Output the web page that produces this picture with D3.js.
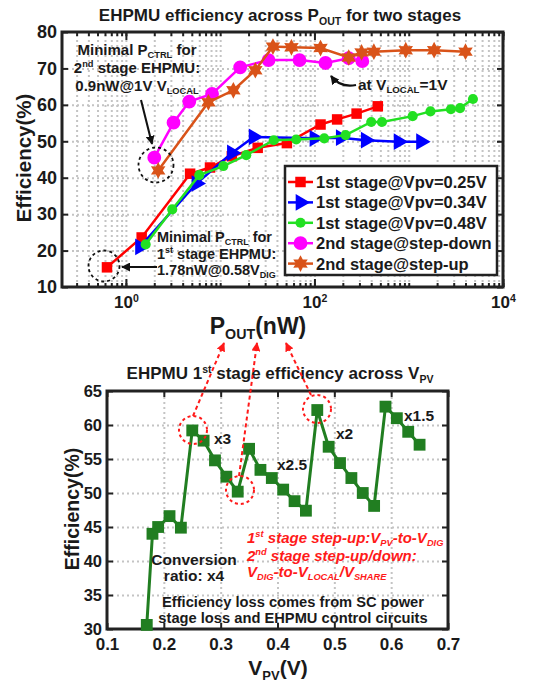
<!DOCTYPE html>
<html>
<head>
<meta charset="utf-8">
<script src="https://cdn.jsdelivr.net/npm/d3@7"></script>
<style>
  body { margin: 0; background: #fff; }
  text { font-family: Arial, "Liberation Sans", sans-serif; font-weight: bold; fill: #1a1a1a; }
</style>
</head>
<body>
<svg id="chart" width="545" height="684"></svg>
<script>
// ---------- top chart: efficiency vs P_OUT (nW) ----------
const redP = [0.63, 1.47, 4.8, 7.8, 13.3, 25, 51, 116, 174, 280, 470]
const redE = [15.4, 23.6, 41.1, 42.8, 45.9, 48.2, 49.5, 54.6, 56.0, 57.6, 59.6]
const blueP = [1.41, 5.6, 13.3, 22.6, 100, 190, 350, 780, 1350]
const blueE = [21.0, 38.4, 46.8, 51.2, 50.8, 51.0, 50.3, 49.9, 49.9]
const greenP = [1.62, 3.1, 6.0, 10.8, 18.9, 37, 64, 127, 214, 400, 520, 1100, 1700, 2800, 3500, 4800]
const greenE = [21.7, 31.3, 40.7, 43.2, 46.2, 50.3, 50.5, 50.8, 51.7, 55.3, 55.3, 56.9, 58.2, 58.8, 59.1, 61.6]
const magP = [2.0, 3.2, 4.7, 8.2, 16.3, 32.6, 69.5, 131, 231, 322]
const magE = [45.5, 55.1, 60.9, 63.0, 70.3, 72.3, 72.3, 71.5, 72.8, 72.0]
const orP = [2.2, 7.5, 13.8, 23.6, 36.3, 57, 116, 231, 316, 427, 930, 1860, 4000]
const orE = [42.0, 60.7, 64.0, 69.5, 76.0, 75.8, 75.6, 73.0, 74.4, 74.6, 75.0, 75.0, 74.6]
const topXTicks = [1, 100, 10000]
const topYTicks = [10, 20, 30, 40, 50, 60, 70, 80]
const legendNames = ['1st stage@Vpv=0.25V', '1st stage@Vpv=0.34V', '1st stage@Vpv=0.48V',
  '2nd stage@step-down', '2nd stage@step-up']

// ---------- bottom chart: 1st stage efficiency vs V_PV ----------
const vpv = [0.17, 0.18, 0.19, 0.21, 0.23, 0.25, 0.27, 0.29, 0.31, 0.33, 0.35, 0.37, 0.39,
  0.41, 0.43, 0.45, 0.47, 0.49, 0.51, 0.53, 0.55, 0.57, 0.59, 0.61, 0.63, 0.65]
const effPv = [30.6, 44.0, 45.0, 46.6, 44.9, 59.2, 57.7, 54.8, 52.4, 50.2, 56.5, 53.4, 52.2,
  50.5, 48.8, 47.4, 62.2, 56.8, 54.4, 52.2, 50.0, 48.1, 62.7, 61.0, 59.0, 57.1]
const botXTicks = [0.1, 0.2, 0.3, 0.4, 0.5, 0.6, 0.7]
const botYTicks = [30, 35, 40, 45, 50, 55, 60, 65]

const svg = d3.select('#chart')
const zip = (a, b) => a.map((v, i) => [v, b[i]])

// rich text: parts = [[text, 'n'|'sup'|'sub'], ...]
function rich(t, parts, fs) {
  let shift = 0
  parts.forEach(([s, k]) => {
    const target = k === 'sup' ? -0.38 * fs : k === 'sub' ? 0.22 * fs : 0
    t.append('tspan')
      .attr('dy', target - shift)
      .attr('font-size', k === 'n' ? fs : fs * 0.62)
      .text(s)
    shift = target
  })
  return t
}
function label(x, y, parts, fs, anchor) {
  const t = svg.append('text').attr('x', x).attr('y', y)
    .attr('text-anchor', anchor || 'start').attr('font-size', fs)
  return rich(t, parts, fs)
}

const defs = svg.append('defs')
function arrowMarker(id, color) {
  defs.append('marker').attr('id', id).attr('viewBox', '0 0 10 10')
    .attr('refX', 9).attr('refY', 5).attr('markerWidth', 9).attr('markerHeight', 9)
    .attr('markerUnits', 'userSpaceOnUse').attr('orient', 'auto')
    .append('path').attr('d', 'M0,0L10,5L0,10z').attr('fill', color)
}
arrowMarker('arrB', '#111')
arrowMarker('arrR', '#ff1a1a')

// 6-point star
const hexagram = {
  draw(ctx, size) {
    const R = Math.sqrt(size)
    for (let i = 0; i < 12; i++) {
      const a = i * Math.PI / 6 - Math.PI / 2
      const r = i % 2 ? R * 0.55 : R
      if (i === 0) ctx.moveTo(r * Math.cos(a), r * Math.sin(a))
      else ctx.lineTo(r * Math.cos(a), r * Math.sin(a))
    }
    ctx.closePath()
  }
}

function styleGrid(g) {
  g.select('.domain').remove()
  g.selectAll('line').attr('stroke', '#c4c4c4').attr('stroke-width', 2).attr('stroke-dasharray', '2,3')
}
function styleTicks(g, fs) {
  g.select('.domain').remove()
  g.selectAll('line').attr('stroke', '#222').attr('stroke-width', 2)
  g.attr('font-size', fs).attr('font-family', null)
  g.selectAll('text').attr('fill', '#1a1a1a')
}

// ================= TOP CHART =================
const T = { l: 62, r: 503, t: 32, b: 287 }
const x1 = d3.scaleLog().domain([0.21, 10000]).range([T.l, T.r])
const y1 = d3.scaleLinear().domain([10, 80]).range([T.b, T.t])

const minors = []
for (let k = -1; k <= 4; k++) for (let m = 1; m <= 9; m++) {
  const v = m * Math.pow(10, k)
  if (v >= 0.21 && v <= 10000) minors.push(v)
}

svg.append('g').attr('transform', `translate(0,${T.b})`)
  .call(d3.axisBottom(x1).tickValues(minors).tickSize(-(T.b - T.t)).tickFormat(''))
  .call(styleGrid)
svg.append('g').attr('transform', `translate(${T.l},0)`)
  .call(d3.axisLeft(y1).tickValues(topYTicks.slice(1, -1)).tickSize(-(T.r - T.l)).tickFormat(''))
  .call(styleGrid)

// ticks
svg.append('g').attr('transform', `translate(0,${T.b})`)
  .call(d3.axisBottom(x1).tickValues(minors).tickSize(-4).tickFormat('')).call(styleTicks, 17)
svg.append('g').attr('transform', `translate(0,${T.t})`)
  .call(d3.axisTop(x1).tickValues(minors).tickSize(-4).tickFormat('')).call(styleTicks, 17)
svg.append('g').attr('transform', `translate(0,${T.t})`)
  .call(d3.axisTop(x1).tickValues(topXTicks).tickSize(-8).tickFormat('')).call(styleTicks, 17)
const xTop = svg.append('g').attr('transform', `translate(0,${T.b})`)
  .call(d3.axisBottom(x1).tickValues(topXTicks).tickSize(-8).tickPadding(9).tickFormat(''))
  .call(styleTicks, 17)
xTop.selectAll('.tick text').attr('y', 21).attr('dy', null).each(function (d) {
  rich(d3.select(this), [['10', 'n'], [String(Math.round(Math.log10(d))), 'sup']], 17)
})
svg.append('g').attr('transform', `translate(${T.l},0)`)
  .call(d3.axisLeft(y1).tickValues(topYTicks).tickSize(-6).tickPadding(5)).call(styleTicks, 18)
svg.append('g').attr('transform', `translate(${T.r},0)`)
  .call(d3.axisRight(y1).tickValues(topYTicks).tickSize(-6).tickFormat('')).call(styleTicks, 18)

svg.append('rect').attr('x', T.l).attr('y', T.t).attr('width', T.r - T.l).attr('height', T.b - T.t)
  .attr('fill', 'none').attr('stroke', '#222').attr('stroke-width', 3)

const topSeries = [
  { data: zip(redP, redE), color: '#ff0000', sym: d3.symbolSquare, size: 110, rot: 0 },
  { data: zip(blueP, blueE), color: '#0000ff', sym: d3.symbolTriangle, size: 120, rot: 90 },
  { data: zip(greenP, greenE), color: '#22e022', sym: d3.symbolCircle, size: 80, rot: 0 },
  { data: zip(magP, magE), color: '#ff00ff', sym: d3.symbolCircle, size: 150, rot: 0 },
  { data: zip(orP, orE), color: '#d95319', sym: hexagram, size: 70, rot: 0 }
]
const line1 = d3.line().x(d => x1(d[0])).y(d => y1(d[1]))
topSeries.forEach(s => {
  const g = svg.append('g')
  g.append('path').attr('d', line1(s.data)).attr('fill', 'none')
    .attr('stroke', s.color).attr('stroke-width', 2.5)
  g.selectAll('path.m').data(s.data).join('path').attr('class', 'm')
    .attr('transform', d => `translate(${x1(d[0])},${y1(d[1])}) rotate(${s.rot})`)
    .attr('d', d3.symbol().type(s.sym).size(s.size)).attr('fill', s.color)
})

// legend
const lg = svg.append('g')
lg.append('rect').attr('x', 285).attr('y', 166).attr('width', 212).attr('height', 109)
  .attr('fill', '#fff').attr('stroke', '#222').attr('stroke-width', 2.5)
topSeries.forEach((s, i) => {
  const yy = 182 + i * 20.4
  lg.append('line').attr('x1', 288).attr('x2', 313).attr('y1', yy).attr('y2', yy)
    .attr('stroke', s.color).attr('stroke-width', 2.5)
  lg.append('path').attr('transform', `translate(300.5,${yy}) rotate(${s.rot})`)
    .attr('d', d3.symbol().type(s.sym).size(s.size)).attr('fill', s.color)
  lg.append('text').attr('x', 316).attr('y', yy + 6).attr('font-size', 16.5).text(legendNames[i])
})

// titles & labels
label(280, 21, [['EHPMU efficiency across P', 'n'], ['OUT', 'sub'], [' for two stages', 'n']], 17, 'middle')
svg.append('text').attr('transform', 'translate(31,158) rotate(-90)').attr('text-anchor', 'middle')
  .attr('font-size', 20.5).text('Efficiency(%)')
label(258, 334, [['P', 'n'], ['OUT', 'sub'], ['(nW)', 'n']], 23, 'middle')

// annotations top
label(137, 55, [['Minimal P', 'n'], ['CTRL', 'sub'], [' for', 'n']], 15, 'middle')
label(137, 73, [['2', 'n'], ['nd', 'sup'], [' stage EHPMU:', 'n']], 15, 'middle')
label(137, 91, [['0.9nW@1V V', 'n'], ['LOCAL', 'sub']], 15, 'middle')
svg.append('line').attr('x1', 141).attr('y1', 100).attr('x2', 152).attr('y2', 144)
  .attr('stroke', '#111').attr('stroke-width', 2).attr('marker-end', 'url(#arrB)')
svg.append('circle').attr('cx', 156).attr('cy', 165).attr('r', 17.5).attr('fill', 'none')
  .attr('stroke', '#111').attr('stroke-width', 1.8).attr('stroke-dasharray', '3,3')
svg.append('circle').attr('cx', 104).attr('cy', 266).attr('r', 15.5).attr('fill', 'none')
  .attr('stroke', '#111').attr('stroke-width', 1.8).attr('stroke-dasharray', '3,3')
svg.append('line').attr('x1', 157).attr('y1', 267).attr('x2', 122).attr('y2', 267)
  .attr('stroke', '#111').attr('stroke-width', 2).attr('marker-end', 'url(#arrB)')
label(157, 242, [['Minimal P', 'n'], ['CTRL', 'sub'], [' for', 'n']], 14.5)
label(157, 259, [['1', 'n'], ['st', 'sup'], [' stage EHPMU:', 'n']], 14.5)
label(157, 275, [['1.78nW@0.58V', 'n'], ['DIG', 'sub']], 14.5)
label(358, 90, [['at V', 'n'], ['LOCAL', 'sub'], ['=1V', 'n']], 15.5)
svg.append('path').attr('d', 'M356,85 Q340,88 331,76').attr('fill', 'none')
  .attr('stroke', '#111').attr('stroke-width', 2.2).attr('marker-end', 'url(#arrB)')

// ================= BOTTOM CHART =================
const B = { l: 107, r: 448, t: 391, b: 629 }
const x2 = d3.scaleLinear().domain([0.1, 0.7]).range([B.l, B.r])
const y2 = d3.scaleLinear().domain([30, 65]).range([B.b, B.t])

svg.append('g').attr('transform', `translate(0,${B.b})`)
  .call(d3.axisBottom(x2).tickValues(botXTicks.slice(1, -1)).tickSize(-(B.b - B.t)).tickFormat(''))
  .call(styleGrid)
svg.append('g').attr('transform', `translate(${B.l},0)`)
  .call(d3.axisLeft(y2).tickValues(botYTicks.slice(1, -1)).tickSize(-(B.r - B.l)).tickFormat(''))
  .call(styleGrid)

svg.append('g').attr('transform', `translate(0,${B.b})`)
  .call(d3.axisBottom(x2).tickValues(botXTicks).tickSize(-6).tickPadding(9).tickFormat(d3.format('.1f')))
  .call(styleTicks, 17)
svg.append('g').attr('transform', `translate(0,${B.t})`)
  .call(d3.axisTop(x2).tickValues(botXTicks).tickSize(-6).tickFormat('')).call(styleTicks, 17)
svg.append('g').attr('transform', `translate(${B.l},0)`)
  .call(d3.axisLeft(y2).tickValues(botYTicks).tickSize(-6).tickPadding(5)).call(styleTicks, 16.5)
svg.append('g').attr('transform', `translate(${B.r},0)`)
  .call(d3.axisRight(y2).tickValues(botYTicks).tickSize(-6).tickFormat('')).call(styleTicks, 16.5)

svg.append('rect').attr('x', B.l).attr('y', B.t).attr('width', B.r - B.l).attr('height', B.b - B.t)
  .attr('fill', 'none').attr('stroke', '#222').attr('stroke-width', 3)

const pvData = zip(vpv, effPv)
const line2 = d3.line().x(d => x2(d[0])).y(d => y2(d[1]))
svg.append('path').attr('d', line2(pvData)).attr('fill', 'none')
  .attr('stroke', '#217e21').attr('stroke-width', 3)
svg.selectAll('path.pv').data(pvData).join('path').attr('class', 'pv')
  .attr('transform', d => `translate(${x2(d[0])},${y2(d[1])})`)
  .attr('d', d3.symbol().type(d3.symbolSquare).size(140)).attr('fill', '#217e21')

label(280, 379, [['EHPMU 1', 'n'], ['st', 'sup'], [' stage efficiency across V', 'n'], ['PV', 'sub']], 17, 'middle')
svg.append('text').attr('transform', 'translate(79,509) rotate(-90)').attr('text-anchor', 'middle')
  .attr('font-size', 19.5).text('Efficiency(%)')
label(278, 675, [['V', 'n'], ['PV', 'sub'], ['(V)', 'n']], 21, 'middle')

// red dashed circles and arrows
const red = '#ff1a1a'
;[[193, 430, 14], [240, 490, 14], [317, 409, 14]].forEach(c => {
  svg.append('circle').attr('cx', c[0]).attr('cy', c[1]).attr('r', c[2]).attr('fill', 'none')
    .attr('stroke', red).attr('stroke-width', 2).attr('stroke-dasharray', '3,3')
})
;[[193, 416, 224, 343], [239, 476, 257, 343], [311, 395, 286, 343]].forEach(a => {
  svg.append('line').attr('x1', a[0]).attr('y1', a[1]).attr('x2', a[2]).attr('y2', a[3])
    .attr('stroke', red).attr('stroke-width', 2).attr('stroke-dasharray', '4,3')
    .attr('marker-end', 'url(#arrR)')
})

label(214, 444, [['x3', 'n']], 15.5)
label(277, 470, [['x2.5', 'n']], 15.5)
label(336, 439, [['x2', 'n']], 15.5)
label(404, 421, [['x1.5', 'n']], 15.5)
label(194, 565, [['Conversion', 'n']], 15.5, 'middle')
label(194, 581, [['ratio: x4', 'n']], 15.5, 'middle')

const r1 = label(247, 543, [['1', 'n'], ['st', 'sup'], [' stage step-up:V', 'n'], ['PV', 'sub'],
  ['-to-V', 'n'], ['DIG', 'sub']], 15)
const r2 = label(247, 561, [['2', 'n'], ['nd', 'sup'], [' stage step-up/down:', 'n']], 15)
const r3 = label(247, 577, [['V', 'n'], ['DIG', 'sub'], ['-to-V', 'n'], ['LOCAL', 'sub'],
  ['/V', 'n'], ['SHARE', 'sub']], 15)
;[r1, r2, r3].forEach(t => t.attr('font-style', 'italic').selectAll('tspan').attr('fill', red))

label(293, 607, [['Efficiency loss comes from SC power', 'n']], 14.7, 'middle')
label(293, 623, [['stage loss and EHPMU control circuits', 'n']], 14.7, 'middle')
</script>
</body>
</html>
